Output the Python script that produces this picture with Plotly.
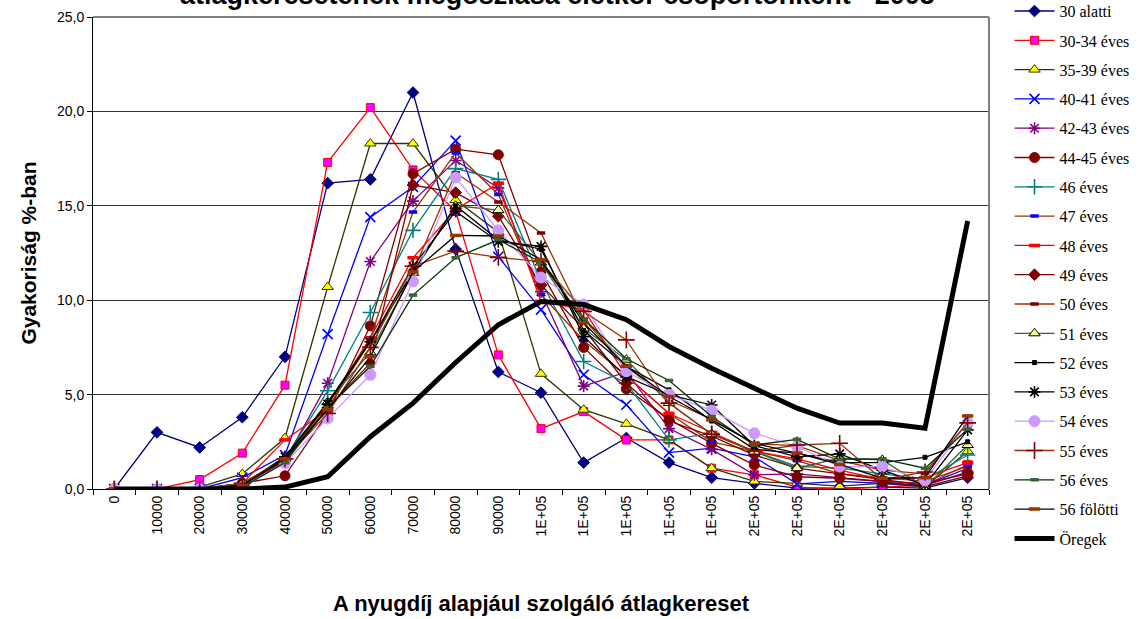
import plotly.graph_objects as go

# Income bands (category order) and their axis labels
bands = list(range(21))
band_labels = ["0", "10000", "20000", "30000", "40000", "50000", "60000", "70000",
               "80000", "90000", "1E+05", "1E+05", "1E+05", "1E+05", "1E+05",
               "2E+05", "2E+05", "2E+05", "2E+05", "2E+05", "2E+05"]

# Frequency (%) by age group
s_30_alatti = [0, 3.0, 2.2, 3.8, 7.0, 16.2, 16.4, 21.0, 12.7, 6.2, 5.1, 1.4, 2.7, 1.4, 0.6, 0.3, 0.05, 0.05, 0.1, 0.05, 0.6]
s_30_34 = [0, 0, 0.5, 1.9, 5.5, 17.3, 20.2, 16.9, 14.7, 7.1, 3.2, 4.1, 2.6, 2.6, 1.1, 0.75, 0.1, 0.0, 0.1, 0.2, 1.3]
s_35_39 = [0, 0, 0.1, 0.8, 2.7, 10.7, 18.3, 18.3, 15.3, 13.6, 6.1, 4.2, 3.45, 2.6, 1.1, 0.4, 0.3, 0.15, 0.3, 0.1, 2.0]
s_40_41 = [0, 0, 0, 0.6, 1.8, 8.2, 14.4, 16.0, 18.45, 12.3, 9.5, 6.05, 4.46, 1.93, 2.16, 1.7, 0.27, 0.4, 0.3, 0.2, 1.1]
s_42_43 = [0, 0, 0, 0.2, 1.5, 5.6, 12.05, 15.25, 17.4, 15.95, 10.45, 5.45, 6.2, 3.2, 2.1, 0.75, 0.8, 0.6, 0.4, 0.3, 0.8]
s_44_45 = [0, 0, 0, 0.3, 0.7, 4.0, 8.64, 16.7, 18.0, 17.7, 11.5, 7.5, 5.3, 3.7, 2.42, 1.27, 0.65, 0.57, 0.39, 0.12, 0.69]
s_46 = [0, 0, 0, 0.2, 1.6, 5.2, 9.35, 13.7, 16.97, 16.4, 11.0, 6.75, 5.6, 2.6, 2.95, 2.0, 1.2, 1.1, 0.8, 0.5, 1.8]
s_47 = [0, 0, 0, 0.3, 1.5, 4.5, 8.0, 14.67, 17.8, 15.6, 10.3, 7.87, 6.0, 4.0, 2.5, 2.0, 1.5, 0.8, 0.6, 0.4, 1.2]
s_48 = [0, 0, 0, 0.3, 2.6, 4.2, 8.0, 12.25, 14.8, 16.2, 9.94, 9.5, 6.0, 4.0, 3.0, 2.0, 1.6, 1.0, 0.5, 0.6, 1.4]
s_49 = [0, 0, 0, 0.2, 1.5, 4.3, 6.66, 16.1, 15.7, 14.45, 10.8, 8.5, 5.6, 3.6, 2.8, 1.8, 1.1, 0.8, 0.5, 0.2, 0.9]
s_50 = [0, 0, 0, 0.3, 1.6, 4.3, 7.8, 11.5, 16.75, 15.2, 13.56, 9.0, 6.5, 4.7, 3.7, 2.4, 2.3, 1.5, 1.0, 0.8, 3.5]
s_51 = [0, 0, 0, 0.3, 1.6, 4.6, 7.24, 11.45, 15.0, 14.77, 12.0, 8.5, 6.85, 4.55, 2.9, 1.98, 1.1, 1.63, 1.54, 0.1, 2.33]
s_52 = [0, 0, 0, 0.2, 1.7, 4.6, 7.8, 11.5, 15.0, 13.2, 12.7, 8.4, 6.5, 5.25, 3.6, 2.1, 1.9, 1.4, 1.4, 1.68, 2.5]
s_53 = [0, 0, 0, 0.2, 1.7, 4.5, 7.8, 11.8, 14.7, 13.1, 12.85, 8.07, 5.95, 4.98, 4.45, 2.3, 1.7, 1.86, 1.0, 0.2, 3.13]
s_54 = [0, 0, 0, 0.1, 1.36, 3.74, 6.05, 11.0, 16.5, 13.7, 11.2, 9.77, 6.23, 4.99, 4.16, 2.95, 2.25, 1.19, 1.19, 0.45, 3.52]
s_55 = [0, 0, 0, 0.3, 1.6, 4.0, 7.5, 11.8, 12.6, 12.27, 12.05, 9.4, 7.9, 4.55, 2.9, 2.0, 2.33, 2.42, 0.5, 0.9, 3.5]
s_56 = [0, 0, 0, 0.1, 1.4, 4.3, 6.5, 10.27, 12.25, 13.2, 12.0, 9.0, 6.9, 5.75, 3.84, 2.33, 2.63, 1.58, 1.6, 1.1, 3.17]
s_56_folott = [0, 0, 0, 0.2, 1.6, 4.2, 7.0, 11.5, 13.43, 13.4, 12.15, 8.8, 6.5, 4.9, 3.66, 2.42, 1.9, 1.3, 0.57, 0.6, 3.87]
s_oregek = [0, 0, 0, 0, 0.1, 0.65, 2.77, 4.55, 6.7, 8.7, 9.93, 9.77, 8.97, 7.55, 6.4, 5.34, 4.28, 3.49, 3.49, 3.22, 14.2]

y_ticks = [0, 5, 10, 15, 20, 25]
y_tick_labels = ["0,0", "5,0", "10,0", "15,0", "20,0", "25,0"]

# (name, values, line colour, marker symbol, marker size, marker fill, marker edge, edge width)
series = [
    ("30 alatti", s_30_alatti, "#000080", "diamond", 9, "#000080", "#000080", 1),
    ("30-34 éves", s_30_34, "#FF0000", "square", 8, "#FF00FF", "#FF0000", 1),
    ("35-39 éves", s_35_39, "#333300", "triangle-up", 10, "#FFFF00", "#333300", 1),
    ("40-41 éves", s_40_41, "#0000FF", "x-thin-open", 10, "#0000FF", "#0000FF", 1.6),
    ("42-43 éves", s_42_43, "#800080", "asterisk-open", 10, "#800080", "#800080", 1.6),
    ("44-45 éves", s_44_45, "#800000", "circle", 10, "#800000", "#800000", 1),
    ("46 éves", s_46, "#008080", "cross-thin-open", 11, "#008080", "#008080", 1.6),
    ("47 éves", s_47, "#993300", "line-ew-open", 6, "#0000FF", "#0000FF", 3.5),
    ("48 éves", s_48, "#FF0000", "line-ew-open", 8, "#FF0000", "#FF0000", 3.5),
    ("49 éves", s_49, "#800000", "diamond", 9, "#800000", "#800000", 1),
    ("50 éves", s_50, "#993300", "line-ew-open", 6, "#800000", "#800000", 3.5),
    ("51 éves", s_51, "#336633", "triangle-up", 10, "#FFFF99", "#000000", 1),
    ("52 éves", s_52, "#000000", "square", 4, "#000000", "#000000", 1),
    ("53 éves", s_53, "#000000", "asterisk-open", 10, "#000000", "#000000", 1.6),
    ("54 éves", s_54, "#CC99FF", "circle", 11, "#CC99FF", "#CC99FF", 1),
    ("55 éves", s_55, "#993300", "cross-thin-open", 12, "#800000", "#800000", 1.6),
    ("56 éves", s_56, "#003300", "line-ew-open", 6, "#336633", "#336633", 3.5),
    ("56 fölötti", s_56_folott, "#000000", "line-ew-open", 8, "#993300", "#993300", 3.5),
]

fig = go.Figure()
for name, vals, lc, sym, size, fill, edge, ew in series:
    fig.add_trace(go.Scatter(
        x=bands, y=vals, name=name, mode="lines+markers", legendgroup=name,
        line=dict(color=lc, width=1.3),
        marker=dict(symbol=sym, size=size, color=fill, line=dict(color=edge, width=ew)),
    ))

fig.add_trace(go.Scatter(
    x=bands, y=s_oregek, name="Öregek", mode="lines", legendgroup="Öregek",
    line=dict(color="#000000", width=5),
))

fig.update_layout(
    width=1143, height=619,
    margin=dict(l=93, r=154, t=17, b=130, autoexpand=False),
    paper_bgcolor="white", plot_bgcolor="white",
    font=dict(family="Liberation Sans, Arial", color="black"),
    showlegend=True,
    legend=dict(
        x=1.0229, y=1.0485, xanchor="left", yanchor="top",
        font=dict(family="Liberation Serif, Times New Roman", size=16, color="black"),
        tracegroupgap=5.5, itemwidth=40, maxheight=1.0, bgcolor="rgba(0,0,0,0)",
    ),
    xaxis=dict(
        range=[-0.5, 20.5], tickmode="array", tickvals=bands, ticktext=band_labels,
        tickangle=-90, tickfont=dict(size=14), ticks="", ticklen=0,
        showgrid=False, zeroline=False, showline=True, linecolor="black", linewidth=1,
        minor=dict(tickmode="linear", tick0=-0.5, dtick=1, ticks="outside",
                   ticklen=5, tickcolor="black", showgrid=False),
        title=dict(text="<b>A nyugdíj alapjául szolgáló átlagkereset</b>",
                   font=dict(size=22), standoff=60),
    ),
    yaxis=dict(
        range=[0, 25], tickmode="array", tickvals=y_ticks, ticktext=y_tick_labels,
        tickfont=dict(size=14), ticks="outside", ticklen=5, tickcolor="black",
        showgrid=True, gridcolor="#333333", gridwidth=1, zeroline=False,
        showline=True, linecolor="black", linewidth=1,
        title=dict(text="<b>Gyakoriság %-ban</b>", font=dict(size=21), standoff=14),
    ),
    shapes=[
        dict(type="line", xref="paper", yref="paper", x0=0, x1=1, y0=1, y1=1,
             line=dict(color="#808080", width=2), layer="above"),
        dict(type="line", xref="paper", yref="paper", x0=1, x1=1, y0=0, y1=1,
             line=dict(color="#808080", width=2), layer="above"),
    ],
    annotations=[
        dict(text="<b>átlagkeresetének megoszlása életkor csoportonként - 2005</b>",
             xref="paper", yref="paper", x=0.518, y=1.046, xanchor="center", yanchor="middle",
             showarrow=False, font=dict(size=27, family="Liberation Sans, Arial")),
    ],
)

fig.write_html("out.html")
